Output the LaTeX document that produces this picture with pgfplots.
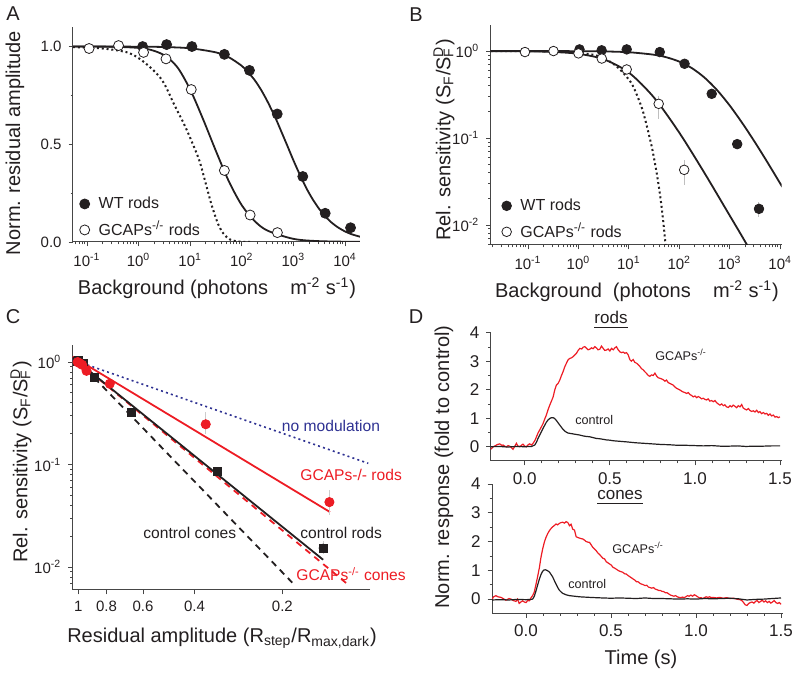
\documentclass[border=0pt]{standalone}
\usepackage{fontspec}
\setmainfont{Liberation Sans}
\usepackage{pgfplots}
\pgfplotsset{compat=1.18}
\definecolor{myred}{RGB}{237,28,36}
\definecolor{mynavy}{RGB}{46,49,146}
\definecolor{txt}{RGB}{35,31,32}
\definecolor{axc}{RGB}{70,70,70}
\newcommand{\fs}[1]{\fontsize{#1}{#1}\selectfont}
\pgfplotsset{
  base/.style={scale only axis, anchor=south west,
    axis x line*=bottom, axis y line*=left,
    axis line style={-, draw=axc, line width=0.5pt},
    tick style={draw=axc, line width=0.4pt},
    tick align=outside, major tick length=2.2pt, minor tick length=1.2pt,
    tick label style={text=txt},
    /pgf/number format/assume math mode=true,
    legend cell align=left,
    legend style={draw=none, fill=none, text=txt, font=\fs{8}, row sep=3pt, inner sep=0pt,
      nodes={inner sep=1pt}, /tikz/every odd column/.append style={column sep=3.5pt}},
    legend image code/.code={\draw[##1] plot coordinates {(0pt,0pt)};},
  },
  lx/.style={xtick={0.1,1,10,100,1000,10000},
    xticklabels={10\textsuperscript{-1},10\textsuperscript{0},10\textsuperscript{1},10\textsuperscript{2},10\textsuperscript{3},10\textsuperscript{4}}},
}
\begin{document}
\begin{tikzpicture}
\useasboundingbox (0,0) rectangle (400pt,337.5pt);

% ---------------- A ----------------
\begin{axis}[base, lx, at={(36.5pt,216.5pt)}, width=143.5pt, height=107.5pt,
  xmode=log, xmin=0.0537, xmax=19500, ymin=0, ymax=1.1,
  minor xtick={0.06,0.07,0.08,0.09,0.2,0.3,0.4,0.5,0.6,0.7,0.8,0.9,2,3,4,5,6,7,8,9,20,30,40,50,60,70,80,90,200,300,400,500,600,700,800,900,2000,3000,4000,5000,6000,7000,8000,9000},
  ytick={0,0.5,1}, yticklabels={0.0,0.5,1.0}, minor ytick={0.25,0.75},
  tick label style={font=\fs{7.5}},
  legend style={at={(axis description cs:0.022,0.222)}, anchor=north west}]
\addplot[forget plot, smooth, line width=0.9pt, color=txt] coordinates {
(0.0537,1.0) (1,0.9993) (3.16,0.9975) (10,0.991) (31.6,0.970) (56.2,0.945) (100,0.901) (133,0.868) (178,0.828) (237,0.778) (316,0.718) (447,0.636) (562,0.575) (750,0.497) (1000,0.418) (1334,0.344) (1778,0.276) (2371,0.218) (3162,0.169) (4169,0.130) (5623,0.097) (7499,0.0727) (10000,0.054) (13335,0.040) (19500,0.027)};
\addplot[forget plot, smooth, line width=0.9pt, color=txt] coordinates {
(0.0537,1.0) (0.316,0.999) (1,0.993) (1.78,0.982) (3.16,0.955) (5.62,0.895) (10,0.78) (17.8,0.628) (31.6,0.465) (56.2,0.31) (100,0.188) (178,0.107) (316,0.058) (1000,0.0161) (3162,0.0043) (19500,0.0005)};
\addplot[forget plot, smooth, line width=1pt, color=txt, dash pattern=on 1pt off 1.4pt] coordinates {
(0.0537,0.997) (0.2,0.99) (0.64,0.968) (1.34,0.916) (2.82,0.83) (5.1,0.694) (8,0.591) (12.5,0.472) (15.6,0.404) (20,0.30) (26,0.19) (35,0.09) (45,0.04) (60,0.012) (90,0.002) (150,0)};
\addplot[only marks, mark=*, mark size=2.5pt, color=txt] coordinates {
(1.2,1.0) (3.5,1.01) (10.8,1.0) (46,0.96) (141,0.878) (486,0.655) (1520,0.335) (4130,0.147) (12800,0.073)};
\addlegendentry{WT rods}
\addplot[only marks, mark=*, mark size=2.5pt, mark options={fill=white, draw=txt, line width=0.4pt}] coordinates {
(0.11,0.99) (0.41,1.005) (1.25,0.97) (3.4,0.937) (10.5,0.78) (46,0.366) (145,0.138) (490,0.048)};
\addlegendentry{GCAPs\textsuperscript{-/-} rods}
\end{axis}

% ---------------- B ----------------
\begin{axis}[base, lx, at={(245.35pt,215pt)}, width=145.5pt, height=110pt,
  xmode=log, xmin=0.0182, xmax=10715, ymode=log, ymin=0.005875, ymax=1.995,
  minor xtick={0.02,0.03,0.04,0.05,0.06,0.07,0.08,0.09,0.2,0.3,0.4,0.5,0.6,0.7,0.8,0.9,2,3,4,5,6,7,8,9,20,30,40,50,60,70,80,90,200,300,400,500,600,700,800,900,2000,3000,4000,5000,6000,7000,8000,9000},
  ytick={0.01,0.1,1}, yticklabels={10\textsuperscript{-2},10\textsuperscript{-1},10\textsuperscript{0}},
  minor ytick={0.006,0.007,0.008,0.009,0.02,0.03,0.04,0.05,0.06,0.07,0.08,0.09,0.2,0.3,0.4,0.5,0.6,0.7,0.8,0.9},
  tick label style={font=\fs{7.5}},
  legend style={at={(axis description cs:0.037,0.222)}, anchor=north west}]
\addplot[forget plot, smooth, line width=0.9pt, color=txt] coordinates {
(0.0182,1.0) (1,0.9968) (3.16,0.990) (10,0.969) (31.6,0.907) (56.2,0.846) (100,0.756) (178,0.635) (316,0.495) (562,0.355) (1000,0.236) (1778,0.148) (3162,0.0892) (5623,0.0522) (10000,0.030) (10715,0.0282)};
\addplot[forget plot, smooth, line width=0.9pt, color=txt] coordinates {
(0.0182,0.9986) (0.1,0.992) (0.316,0.976) (1,0.929) (3.16,0.804) (10,0.565) (31.6,0.291) (100,0.115) (316,0.0395) (1000,0.0128) (1660,0.0078) (2400,0.0054)};
\addplot[forget plot, smooth, line width=1pt, color=txt, dash pattern=on 1pt off 1.4pt] coordinates {
(0.0182,1.0) (0.1,0.998) (0.3,0.99) (1,0.955) (2.6,0.87) (5.5,0.68) (10,0.47) (13,0.36) (18.5,0.213) (24,0.12) (29,0.075) (36,0.038) (42,0.021) (48,0.011) (54,0.0055)};
\addplot[forget plot, only marks, mark=none, error bars/.cd, y dir=both, y explicit, error mark=none, error bar style={black!25, line width=0.5pt}] coordinates {
(39,0.247) += (0,0.056) -= (0,0.081)
(125,0.043) += (0,0.013) -= (0,0.014)
(1405,0.085) += (0,0.01) -= (0,0.01)
(3800,0.0153) += (0,0.003) -= (0,0.003)};
\addplot[only marks, mark=*, mark size=2.4pt, color=txt] coordinates {
(1.05,1.045) (2.88,1.02) (9.06,1.045) (41,0.974) (127,0.714) (439,0.322) (1405,0.085) (3800,0.0153)};
\addlegendentry{WT rods}
\addplot[only marks, mark=*, mark size=2.4pt, mark options={fill=white, draw=txt, line width=0.4pt}] coordinates {
(0.087,0.974) (0.32,1.0) (1.0,0.94) (2.9,0.82) (9.06,0.614) (39,0.247) (125,0.043)};
\addlegendentry{GCAPs\textsuperscript{-/-} rods}
\end{axis}

% ---------------- C ----------------
\begin{axis}[base, at={(36.35pt,42.5pt)}, width=148.65pt, height=122.5pt,
  xmode=log, x dir=reverse, xmin=0.1002, xmax=1.045, ymode=log, ymin=0.00597, ymax=1.466,
  xtick={0.2,0.4,0.6,0.8,1}, xticklabels={0.2,0.4,0.6,0.8,1}, minor xtick={},
  ytick={0.01,0.1,1}, yticklabels={10\textsuperscript{-2},10\textsuperscript{-1},10\textsuperscript{0}},
  minor ytick={0.007,0.008,0.009,0.02,0.03,0.04,0.05,0.06,0.07,0.08,0.09,0.2,0.3,0.4,0.5,0.6,0.7,0.8,0.9},
  tick label style={font=\fs{7.5}}]
\addplot[line width=0.8pt, color=mynavy, dash pattern=on 1pt off 1.6pt] coordinates {(1.045,1.052) (0.1016,0.1027)};
\addplot[line width=0.9pt, color=myred] coordinates {(1.045,1.128) (0.1374,0.0344)};
\addplot[line width=0.9pt, color=txt, dash pattern=on 3.2pt off 2.6pt] coordinates {(1.0,1.02) (0.18,0.0065)};
\addplot[line width=0.9pt, color=myred, dash pattern=on 3.2pt off 2.6pt] coordinates {(1.045,1.109) (0.12,0.00686)};
\addplot[line width=0.9pt, color=txt] coordinates {(1.045,1.106) (0.145,0.01178)};
\addplot[only marks, mark=none, error bars/.cd, y dir=both, y explicit, error mark=none, error bar style={black!20, line width=0.5pt}] coordinates {
(0.366,0.247) += (0,0.08) -= (0,0.05)
(0.138,0.043) += (0,0.013) -= (0,0.011)
(0.145,0.0153) += (0,0.0025) -= (0,0.0018)};
\addplot[only marks, mark=square*, mark size=2pt, color=txt] coordinates {
(1.0,1.045) (1.01,1.02) (1.0,1.045) (0.96,0.974) (0.88,0.714) (0.66,0.322) (0.335,0.085) (0.145,0.0153)};
\addplot[only marks, mark=*, mark size=2.3pt, color=myred] coordinates {
(0.99,0.974) (1.005,1.0) (0.97,0.94) (0.937,0.82) (0.78,0.614) (0.366,0.247) (0.138,0.043)};
\end{axis}

% ---------------- D top ----------------
\begin{axis}[base, at={(245.35pt,107pt)}, width=145.5pt, height=64.15pt,
  xmin=-0.2, xmax=1.51, ymin=-0.5, ymax=4,
  xtick={0,0.5,1,1.5}, xticklabels={0.0,0.5,1.0,1.5}, minor x tick num=4,
  ytick={0,1,2,3,4}, yticklabels={0,1,2,3,4}, minor y tick num=1,
  tick label style={font=\fs{8.5}}]
\addplot[line width=0.6pt, color=myred] coordinates {
(-0.20,-0.09) (-0.185,0.00) (-0.175,0.03) (-0.16,0.08) (-0.147,0.10) (-0.135,0.05) (-0.127,0.06) (-0.115,0.01) (-0.108,0.00) (-0.098,0.04) (-0.088,0.02) (-0.078,-0.03) (-0.069,-0.09) (-0.058,0.02) (-0.049,0.12) (-0.040,0.02) (-0.029,0.00) (-0.020,0.05) (-0.010,0.09) (0.000,0.02) (0.010,0.00) (0.020,0.07) (0.029,0.10) (0.040,0.06) (0.049,0.12) (0.060,0.22) (0.069,0.35) (0.078,0.48) (0.088,0.59) (0.098,0.70) (0.108,0.82) (0.118,0.98) (0.127,1.11) (0.137,1.30) (0.147,1.46) (0.157,1.60) (0.167,1.75) (0.176,1.98) (0.186,2.16) (0.196,2.22) (0.206,2.34) (0.216,2.50) (0.225,2.63) (0.235,2.80) (0.245,2.93) (0.255,3.05) (0.265,3.10) (0.275,3.12) (0.284,3.16) (0.294,3.22) (0.304,3.28) (0.314,3.38) (0.324,3.45) (0.335,3.43) (0.343,3.49) (0.353,3.51) (0.362,3.46) (0.372,3.40) (0.382,3.42) (0.392,3.47) (0.402,3.44) (0.412,3.51) (0.422,3.46) (0.431,3.40) (0.441,3.42) (0.451,3.53) (0.461,3.45) (0.470,3.38) (0.480,3.39) (0.490,3.43) (0.500,3.36) (0.510,3.45) (0.520,3.40) (0.530,3.47) (0.539,3.51) (0.549,3.40) (0.559,3.33) (0.569,3.30) (0.578,3.32) (0.588,3.28) (0.598,3.30) (0.608,3.22) (0.618,3.05) (0.627,3.00) (0.637,3.06) (0.647,2.96) (0.657,2.93) (0.667,2.88) (0.676,2.82) (0.686,2.74) (0.696,2.70) (0.706,2.63) (0.716,2.57) (0.726,2.50) (0.735,2.47) (0.745,2.52) (0.755,2.50) (0.765,2.58) (0.775,2.48) (0.784,2.42) (0.794,2.40) (0.804,2.38) (0.814,2.35) (0.824,2.30) (0.833,2.34) (0.843,2.25) (0.853,2.22) (0.863,2.19) (0.873,2.16) (0.882,2.10) (0.892,2.05) (0.902,2.02) (0.912,1.99) (0.922,1.95) (0.931,1.92) (0.941,1.90) (0.951,1.87) (0.961,1.90) (0.971,1.83) (0.980,1.80) (0.990,1.75) (1.000,1.78) (1.010,1.72) (1.020,1.76) (1.029,1.73) (1.039,1.68) (1.049,1.70) (1.059,1.66) (1.069,1.64) (1.078,1.68) (1.088,1.60) (1.098,1.62) (1.108,1.58) (1.118,1.62) (1.127,1.55) (1.137,1.50) (1.147,1.46) (1.157,1.50) (1.167,1.44) (1.176,1.47) (1.186,1.40) (1.196,1.38) (1.206,1.44) (1.216,1.40) (1.225,1.46) (1.235,1.42) (1.245,1.37) (1.255,1.44) (1.265,1.40) (1.275,1.48) (1.284,1.36) (1.294,1.32) (1.304,1.29) (1.314,1.34) (1.324,1.27) (1.333,1.24) (1.343,1.26) (1.353,1.22) (1.363,1.28) (1.373,1.20) (1.382,1.23) (1.392,1.16) (1.402,1.20) (1.412,1.15) (1.422,1.17) (1.431,1.10) (1.441,1.15) (1.451,1.08) (1.461,1.11) (1.471,1.04) (1.480,1.06) (1.490,1.02) (1.500,1.05)};
\addplot[line width=0.6pt, color=txt] coordinates {
(-0.20,0.00) (-0.15,0.01) (-0.10,-0.01) (-0.05,0.01) (0.00,0.00) (0.04,0.01) (0.059,0.06) (0.069,0.16) (0.078,0.29) (0.088,0.41) (0.098,0.53) (0.108,0.65) (0.118,0.76) (0.127,0.86) (0.137,0.94) (0.147,0.99) (0.157,1.02) (0.167,1.02) (0.176,0.99) (0.186,0.92) (0.196,0.84) (0.206,0.76) (0.216,0.68) (0.225,0.61) (0.235,0.55) (0.245,0.51) (0.255,0.48) (0.265,0.47) (0.284,0.45) (0.304,0.43) (0.323,0.41) (0.343,0.38) (0.362,0.36) (0.382,0.35) (0.402,0.32) (0.422,0.29) (0.441,0.28) (0.461,0.26) (0.48,0.24) (0.50,0.23) (0.52,0.21) (0.54,0.20) (0.56,0.19) (0.60,0.17) (0.65,0.14) (0.70,0.12) (0.75,0.10) (0.80,0.08) (0.85,0.07) (0.90,0.05) (0.95,0.05) (1.00,0.04) (1.05,0.03) (1.10,0.04) (1.15,0.02) (1.20,0.02) (1.25,0.03) (1.30,0.01) (1.35,0.02) (1.40,0.02) (1.45,0.03) (1.50,0.03)};
\end{axis}

% ---------------- D bottom ----------------
\begin{axis}[base, at={(246pt,30.75pt)}, width=145.35pt, height=64.75pt,
  xmin=-0.2, xmax=1.51, ymin=-0.5, ymax=4,
  xtick={0,0.5,1,1.5}, xticklabels={0.0,0.5,1.0,1.5}, minor x tick num=4,
  ytick={0,1,2,3,4}, yticklabels={0,1,2,3,4}, minor y tick num=1,
  tick label style={font=\fs{8.5}}]
\addplot[line width=0.6pt, color=myred] coordinates {
(-0.20,0.00) (-0.19,0.08) (-0.177,0.12) (-0.165,0.08) (-0.147,0.06) (-0.135,0.02) (-0.118,-0.04) (-0.10,0.02) (-0.088,0.00) (-0.075,-0.05) (-0.059,-0.08) (-0.05,0.00) (-0.04,-0.15) (-0.03,-0.10) (-0.02,-0.06) (-0.01,-0.10) (0.00,-0.12) (0.01,-0.05) (0.02,-0.06) (0.03,0.05) (0.039,0.12) (0.049,0.25) (0.059,0.52) (0.069,0.80) (0.079,1.10) (0.088,1.45) (0.098,1.74) (0.108,1.98) (0.118,2.15) (0.128,2.28) (0.138,2.38) (0.147,2.45) (0.157,2.51) (0.167,2.56) (0.177,2.61) (0.186,2.58) (0.196,2.63) (0.206,2.66) (0.216,2.67) (0.226,2.64) (0.236,2.69) (0.246,2.66) (0.256,2.55) (0.265,2.60) (0.275,2.43) (0.285,2.40) (0.295,2.17) (0.305,2.14) (0.315,2.12) (0.325,2.10) (0.334,2.09) (0.344,2.05) (0.354,2.00) (0.364,1.98) (0.374,1.97) (0.384,1.88) (0.393,1.80) (0.403,1.74) (0.413,1.68) (0.423,1.60) (0.433,1.55) (0.443,1.48) (0.452,1.42) (0.462,1.40) (0.472,1.30) (0.482,1.26) (0.492,1.22) (0.502,1.18) (0.512,1.10) (0.521,1.08) (0.531,1.04) (0.541,1.00) (0.551,0.97) (0.561,0.95) (0.57,0.93) (0.58,0.88) (0.59,0.87) (0.60,0.82) (0.61,0.78) (0.62,0.74) (0.63,0.70) (0.64,0.66) (0.65,0.60) (0.66,0.60) (0.67,0.55) (0.68,0.52) (0.69,0.50) (0.70,0.47) (0.71,0.48) (0.72,0.42) (0.73,0.40) (0.74,0.38) (0.75,0.40) (0.76,0.35) (0.77,0.33) (0.78,0.30) (0.79,0.30) (0.80,0.27) (0.81,0.26) (0.82,0.22) (0.83,0.22) (0.84,0.18) (0.85,0.14) (0.86,0.12) (0.87,0.10) (0.88,0.12) (0.89,0.08) (0.90,0.06) (0.91,0.05) (0.92,0.07) (0.93,0.05) (0.94,0.08) (0.95,0.12) (0.96,0.10) (0.97,0.14) (0.98,0.10) (0.99,0.15) (1.00,0.12) (1.01,0.08) (1.02,0.04) (1.03,0.05) (1.04,0.02) (1.05,0.05) (1.06,0.08) (1.07,0.06) (1.08,0.08) (1.09,0.05) (1.10,0.06) (1.12,0.04) (1.14,0.06) (1.16,0.03) (1.18,0.05) (1.20,0.02) (1.22,0.03) (1.24,0.00) (1.26,-0.02) (1.27,-0.05) (1.28,-0.12) (1.29,-0.20) (1.30,-0.22) (1.31,-0.15) (1.32,-0.12) (1.33,-0.10) (1.34,-0.14) (1.35,-0.08) (1.36,-0.05) (1.37,-0.12) (1.38,-0.08) (1.39,-0.04) (1.40,-0.10) (1.41,-0.06) (1.42,-0.12) (1.43,-0.08) (1.44,-0.14) (1.45,-0.10) (1.46,-0.05) (1.47,-0.12) (1.48,-0.15) (1.49,-0.12) (1.50,-0.18)};
\addplot[line width=0.6pt, color=txt] coordinates {
(-0.20,-0.03) (-0.15,-0.02) (-0.10,-0.03) (-0.05,-0.01) (0.00,-0.02) (0.03,-0.01) (0.039,0.00) (0.049,0.10) (0.059,0.29) (0.069,0.50) (0.079,0.70) (0.088,0.85) (0.098,0.97) (0.106,1.01) (0.114,1.02) (0.126,0.99) (0.138,0.94) (0.147,0.86) (0.157,0.77) (0.167,0.64) (0.177,0.52) (0.186,0.41) (0.196,0.31) (0.206,0.25) (0.216,0.20) (0.236,0.15) (0.256,0.12) (0.285,0.10) (0.315,0.08) (0.344,0.07) (0.374,0.06) (0.41,0.05) (0.45,0.04) (0.5,0.03) (0.55,0.04) (0.6,0.03) (0.65,0.02) (0.7,0.04) (0.75,0.02) (0.8,0.02) (0.85,0.01) (0.9,0.00) (0.95,0.01) (1.0,0.00) (1.05,0.02) (1.1,0.01) (1.15,0.02) (1.2,0.03) (1.25,0.01) (1.3,-0.03) (1.35,-0.01) (1.4,0.00) (1.45,0.02) (1.5,0.04)};
\end{axis}

% ---------------- text ----------------
\begin{scope}[x=0.5pt, y=-0.5pt, shift={(0pt,337.5pt)}, every node/.style={text=txt, inner sep=0pt}]
\node[font=\fs{10}] at (13,14) {A};
\node[font=\fs{10}] at (416,15) {B};
\node[font=\fs{10}] at (13,317) {C};
\node[font=\fs{10}] at (416,317) {D};
\node[font=\fs{10}, rotate=90] at (15,143) {Norm. residual amplitude};
\node[font=\fs{10}, anchor=base] at (217,295) {Background (photons\ \ \ \ m\textsuperscript{-2} s\textsuperscript{-1})};
\node[font=\fs{10}, rotate=90] at (444,140) {Rel. sensitivity (S\textsubscript{F}/S\rlap{\textsubscript{F}}\textsuperscript{D})};
\node[font=\fs{10}, anchor=base] at (637,298) {Background\ \ (photons\ \ \ \ m\textsuperscript{-2} s\textsuperscript{-1})};
\node[font=\fs{10}, rotate=90] at (21,462) {Rel. sensitivity (S\textsubscript{F}/S\rlap{\textsubscript{F}}\textsuperscript{D})};
\node[font=\fs{10}, anchor=base] at (222,643) {Residual amplitude (R\textsubscript{step}/R\textsubscript{max,dark})};
\node[font=\fs{10}, rotate=90] at (444,467) {Norm. response (fold to control)};
\node[font=\fs{10}, anchor=base] at (641,665) {Time (s)};
\node[font=\fs{7.8}, text=mynavy] at (331,426) {no modulation};
\node[font=\fs{7.8}, text=myred, anchor=west] at (300,475) {GCAPs-/- rods};
\node[font=\fs{7.8}, anchor=west] at (300,533) {control rods};
\node[font=\fs{7.8}, text=myred, anchor=west] at (296,574) {GCAPs\textsuperscript{-/-} cones};
\node[font=\fs{7.8}, anchor=west] at (143,533) {control cones};
\node[font=\fs{6.3}, anchor=west] at (655,355) {GCAPs\textsuperscript{-/-}};
\node[font=\fs{6.3}, anchor=west] at (575,420) {control};
\node[font=\fs{6.3}, anchor=west] at (612,548) {GCAPs\textsuperscript{-/-}};
\node[font=\fs{6.3}, anchor=west] at (568,584) {control};
\node[font=\fs{8.5}, anchor=base] at (611,324) {\underline{rods}};
\node[font=\fs{8.5}, anchor=base] at (620,500) {\underline{cones}};
\end{scope}
\end{tikzpicture}
\end{document}
